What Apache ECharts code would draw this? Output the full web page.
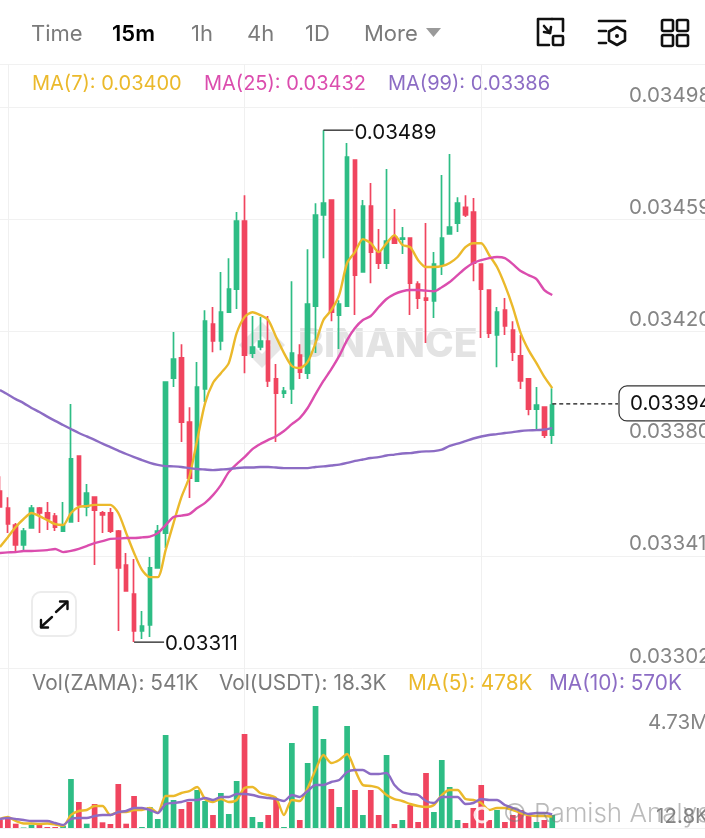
<!DOCTYPE html>
<html><head><meta charset="utf-8">
<style>html,body{margin:0;padding:0;background:#fff}#c{width:705px;height:838px}</style>
<script src="https://cdn.jsdelivr.net/npm/echarts@6/dist/echarts.min.js"></script>
</head><body><div id="c"></div>
<script>
// prices in units of 0.00001
const opens=[3363.5,3357.6,3351.7,3344.8,3350.7,3357.6,3355.9,3354.8,3349.6,3352.8,3375.7,3358,3361.4,3355.9,3355.9,3349.6,3337.8,3327.7,3314.9,3317,3336.8,3348.9,3402.8,3409.8,3387.5,3367,3399,3421.6,3415.7,3425.7,3433.7,3457.4,3411.5,3413.6,3415.7,3402.5,3397.6,3399,3410.8,3404.5,3427.8,3459.5,3464.7,3424.7,3427.8,3478.6,3439.7,3462.6,3446.6,3442.8,3451.8,3451.1,3451.5,3435.5,3430.6,3429.6,3442.1,3452.9,3456.7,3462.2,3460.5,3442.4,3433.4,3417.8,3426.4,3419.5,3410.5,3402.5,3392,3392.7,3383];
const closes=[3358,3352.1,3344.8,3349.6,3357.6,3355.9,3353.8,3351,3351.7,3374.7,3358.7,3362.8,3356.9,3355.2,3349.6,3336.8,3328.8,3314.9,3316.6,3336.8,3349.6,3401.4,3409.4,3387.5,3368,3399.7,3422.6,3415.7,3425.7,3433.7,3457.4,3410.8,3413.6,3415.7,3401.8,3397.6,3398.3,3411.5,3404.9,3428.5,3459.5,3463.6,3425.7,3428.5,3479.6,3438.6,3462.6,3446.6,3442.8,3450.4,3449.7,3451.5,3435.8,3430.6,3429.9,3442.4,3451.5,3455.3,3463.6,3459.5,3442.8,3433.7,3418.4,3425.7,3420.9,3411.8,3401.8,3392,3393.4,3383,3393.4];
const lows=[3358,3348.9,3342.3,3342.7,3350.7,3348.9,3350,3349.6,3349.6,3352.8,3352.8,3354.8,3337.8,3348.9,3348.9,3314.9,3328.8,3311,3312.1,3312.8,3336.8,3343.7,3399.7,3380.6,3361.1,3367,3394.5,3411.8,3412.5,3425.7,3426.8,3404.5,3409.8,3412.5,3399.7,3380.6,3395.9,3393.8,3402.5,3402.5,3411.5,3444.5,3422.6,3412.9,3427.8,3424.7,3439.7,3435.8,3440.7,3440.7,3449.7,3445.9,3424.7,3426.8,3415,3423.7,3438.6,3452.9,3453.6,3458.8,3436.5,3416.7,3416.7,3406.6,3417.8,3408.7,3399,3389.9,3384.7,3382,3379.9];
const highs=[3368.7,3361.4,3352.4,3350.7,3358.7,3358,3359.7,3355.9,3359.7,3393.8,3375.7,3366,3361.4,3356.6,3357.6,3350,3342,3339.9,3321.8,3340.6,3351.7,3401.4,3418.8,3414.6,3392.7,3408.4,3426.4,3427.5,3439.7,3444.5,3460.5,3466.4,3424.4,3424,3424.4,3407.7,3399.7,3436.5,3414.6,3447.6,3463.6,3489,3464.7,3429.9,3484.5,3478.6,3464.7,3470.6,3454.6,3475.5,3461.6,3455.3,3451.5,3436.5,3456.7,3446.6,3473.4,3480.7,3465.7,3466.4,3465.4,3442.4,3433.4,3427.5,3430.6,3422.6,3417.8,3402.5,3399.7,3392.7,3399.3];
const ma7=[3344.1,3347.5,3351,3353.8,3355.9,3354.8,3353.4,3352,3351.7,3355.9,3358,3358.3,3358.7,3358.7,3358.7,3355.9,3348.9,3342,3336.1,3333.6,3333.6,3343,3352.4,3361.4,3368.4,3381.3,3394.1,3401.1,3404.5,3408,3418.4,3424,3425.7,3424.7,3423,3417.1,3411.5,3407,3406.3,3408.4,3415,3423,3426.4,3431.7,3442.8,3446.6,3451.1,3449.7,3446.6,3449.7,3452.5,3449.1,3448.3,3443.8,3441.4,3441.4,3441.7,3442.8,3444.9,3448.3,3449.7,3449.7,3445.6,3441.4,3435.1,3427.5,3418.4,3412.5,3408,3403.2,3399.3];
const ma25=[3342,3342.2,3342.3,3342.7,3342.7,3342.8,3343,3343.4,3342.3,3342.7,3343.4,3344.4,3345.4,3346.1,3346.9,3347,3347.2,3347.2,3347.4,3347.7,3348.9,3351.7,3354.5,3355,3355.5,3357.6,3359.4,3362.1,3365.6,3370.1,3372.9,3375.3,3378.1,3379.9,3381.3,3382.6,3384.4,3386.8,3388.9,3392.4,3397.2,3401.8,3405.9,3410.5,3416,3420.2,3423,3424.4,3427.5,3430.3,3432,3433,3433.4,3433.4,3433.2,3433,3434.4,3436.2,3438.6,3441,3442.8,3443.8,3444.5,3444.9,3444.5,3442.4,3440,3438.6,3437.2,3433.4,3431.7];
const ma99=[3398.6,3397.1,3395.5,3394.1,3392.4,3391,3389.4,3387.9,3386.5,3385.1,3383.7,3382.5,3381.3,3380,3378.8,3377.6,3376.4,3375.3,3374.3,3373.3,3372.6,3372.2,3372.1,3371.9,3371.5,3371.2,3371,3370.8,3371,3371.2,3371.5,3371.7,3371.7,3371.9,3371.9,3371.7,3371.5,3371.5,3371.5,3371.5,3371.9,3372.1,3372.4,3372.7,3373.3,3374,3374.5,3375,3375.3,3375.9,3376.2,3376.6,3376.7,3377.1,3377.3,3377.4,3377.9,3379.2,3380,3380.9,3381.8,3382.5,3383,3383.3,3383.7,3384,3384.4,3384.6,3384.7,3384.9,3385.4];
// volume in thousands
const volumes=[333,458,179,21,137,137,42,42,83,2038,1082,179,998,237,166,1830,179,1331,42,874,374,3869,1165,790,1082,1581,1123,541,1456,582,1955,3910,458,250,541,1165,42,3536,333,2704,5075,3702,1622,874,4243,1581,541,1581,541,3037,166,333,957,250,2288,666,2829,1706,333,208,832,1789,333,749,250,541,749,499,250,333,541];
const volMa5=[374,458,291,187,187,166,187,146,83,541,707,749,915,915,541,666,666,749,749,832,624,1331,1331,1456,1539,1706,1206,1082,1206,1082,1165,1664,1706,1456,1373,1248,541,1165,1123,1664,2413,3037,2704,2829,3078,2413,1789,1747,1664,1373,1206,1123,998,915,874,957,1373,1581,1581,1206,1165,1040,749,832,832,749,624,541,499,499,478];
const volMa10=[374,416,374,333,291,291,291,208,125,374,416,416,499,541,541,666,707,832,832,749,624,998,1040,1082,1165,1165,1248,1165,1290,1290,1414,1414,1373,1290,1248,1206,1123,1373,1290,1539,1789,1789,1914,1997,2330,2413,2413,2246,2246,2288,1789,1498,1414,1373,1123,1040,1290,1290,1290,998,1040,1206,1165,1165,957,832,707,582,624,624,570];
const priceTickValues=[3302,3341,3380,3419,3458,3497];
const priceTickLabels=['0.03302','0.03341','0.03380','0.03420','0.03459','0.03498'];
const volTickValues=[13,3950];
const volTickLabels=['{a|12.8K}','4.73M'];
const tabs=['Time','15m','1h','4h','1D','More'];
const slots=90;
const lastPrice=3393.8, lastPriceLabel='0.03394', highLabel='0.03489', lowLabel='0.03311', highIndex=41, lowIndex=17;

const GREEN='#2EBD85',RED='#F0455F',YEL='#EBB92B',PINK='#DB4DAE',PUR='#8C6CC4',GRID='#f1f1f1',GRAY='#858585';
const FF='Inter, "Noto Sans", sans-serif';
const cats=Array.from({length:slots},(_,i)=>String(i));
const candle=opens.map((o,i)=>[o,closes[i],lows[i],highs[i]]);
const volData=volumes.map((v,i)=>({value:v,itemStyle:{color:closes[i]>=opens[i]?GREEN:RED}}));
const line=(name,data,color,x,y,w)=>({name,type:'line',xAxisIndex:x,yAxisIndex:y,data,showSymbol:false,symbol:'none',smooth:0.25,z:5,
  lineStyle:{color,width:w},itemStyle:{color},silent:true,animation:false,clip:true});
const txt=(x,y,text,fill,size,weight,extra)=>({type:'text',x,y,silent:true,style:Object.assign({text,fill,fontSize:size,fontWeight:weight||400,fontFamily:FF,textVerticalAlign:'middle',verticalAlign:'middle'},extra||{})});
const st=(o)=>Object.assign({stroke:'#111',lineWidth:2.6,fill:null,lineCap:'round',lineJoin:'round'},o||{});
const ln=(a,b,c,d,o)=>({type:'line',silent:true,shape:{x1:a,y1:b,x2:c,y2:d},style:st(o)});
const rr=(x,y,w,h,r,o)=>({type:'rect',silent:true,shape:{x,y,width:w,height:h,r},style:st(o)});
const pl=(points,o)=>({type:'polyline',silent:true,shape:{points},style:st(o)});

const tabX=[31,112,191,247,305,364];
const graphics=[
  ...tabs.map((t,i)=>txt(tabX[i],34,t,i===1?'#000':'#7b7b7b',22,i===1?600:400)),
  {type:'polygon',silent:true,shape:{points:[[426,28],[441,28],[433.5,37]]},style:{fill:'#9a9a9a'}},
  // header icons
  pl([[552,19],[538,19],[538,45],[549,45]]),pl([[552,19],[563,19],[563,31]]),
  rr(553,36,10,9,1),ln(544,26,550,33),pl([[544,32],[550,33],[551,27]]),
  ln(599,21,625,21),ln(599,31,606,31),ln(599,43,606,43),
  pl([[617,27],[625,31.5],[625,40.5],[617,45],[609,40.5],[609,31.5],[617,27]]),
  {type:'circle',silent:true,shape:{cx:617,cy:36,r:2},style:{fill:'#111'}},
  rr(662,20,11,11,1.5),rr(677,20,11,11,1.5),rr(662,35,11,11,1.5),rr(677,35,11,11,1.5),
  // legends
  txt(32,84,'MA(7): 0.03400',YEL,20),txt(204,84,'MA(25): 0.03432',PINK,20),txt(388,84,'MA(99): 0.03386',PUR,20),
  txt(32,684,'Vol(ZAMA): 541K','#7b7b7b',20.8),txt(219,684,'Vol(USDT): 18.3K','#7b7b7b',20.8),txt(408,684,'MA(5): 478K',YEL,20.8),txt(549,684,'MA(10): 570K',PUR,20.8),
  // expand button
  rr(32,592,44,44,9,{stroke:'#ececec',lineWidth:2,fill:'#fff'}),
  ln(56,612,67,602,{lineWidth:2.4}),pl([[60,601.5],[67.5,601.5],[67.5,609]],{lineWidth:2.4}),
  ln(52,617,41,627,{lineWidth:2.4}),pl([[41,620],[41,627.5],[48,627.5]],{lineWidth:2.4}),
  // binance watermark
  {type:'group',z:-1,children:[
    {type:'polygon',silent:true,z:-1,shape:{points:[[262,322],[285,345],[262,368],[239,345]]},style:{fill:'#e6e6e6'}},
    {type:'polygon',silent:true,z:-1,shape:{points:[[262,336],[271,345],[262,354],[253,345]]},style:{fill:'#fff'}},
  ]},
  Object.assign(txt(298,345,'BINANCE','#e3e3e3',39,800),{z:-1}),
  // photo watermark
  Object.assign(txt(503,814,'© Ramish Analysis','rgba(120,120,120,.5)',26,300),{z:20}),
  {type:'circle',silent:true,z:20,shape:{cx:482,cy:815,r:7},style:{fill:'none',stroke:'rgba(255,255,255,.85)',lineWidth:3}},
];

const annotations={type:'custom',xAxisIndex:0,yAxisIndex:0,data:[[0]],z:10,silent:true,clip:false,encode:{x:0},animation:false,
  renderItem(p,api){
    const hi=api.coord([highIndex,highs[highIndex]]),lo=api.coord([lowIndex,lows[lowIndex]]),la=api.coord([70,lastPrice]);
    const tx=(x,y,text)=>({type:'text',x,y,style:{text,fill:'#111',fontSize:20.5,fontFamily:FF,verticalAlign:'middle'}});
    const sl=(a,b,c,d,dash)=>({type:'line',shape:{x1:a,y1:b,x2:c,y2:d},style:{stroke:'#111',lineWidth:1.2,lineDash:dash||null}});
    return {type:'group',children:[
      sl(hi[0],hi[1],hi[0]+30,hi[1]),tx(hi[0]+31,hi[1]+3,highLabel),
      sl(lo[0],lo[1],lo[0]+30,lo[1]),tx(lo[0]+31,lo[1]+2,lowLabel),
      sl(la[0],la[1],618,la[1],[4,3]),
      {type:'rect',shape:{x:619,y:la[1]-18,width:100,height:35,r:8},style:{fill:'#fff',stroke:'#333',lineWidth:1.2}},
      tx(630,la[1],lastPriceLabel),
    ]};
  }};

const chart=echarts.init(document.getElementById('c'),null,{renderer:'canvas'});
chart.setOption({
  animation:false,backgroundColor:'#fff',
  graphic:graphics,
  grid:[{left:-4,width:710.1,top:64,height:604,containLabel:false,outerBoundsMode:'none'},{left:-4,width:710.1,top:668,height:160,containLabel:false,outerBoundsMode:'none'}],
  xAxis:[0,1].map(g=>({type:'category',gridIndex:g,data:cats,boundaryGap:true,
    axisLabel:{show:false},axisTick:{show:false},axisLine:{show:g===1,lineStyle:{color:GRID,width:1}},
    splitLine:{show:true,alignWithLabel:true,interval:(i)=>i%30===1,lineStyle:{color:'#f0f0f0',width:1}}})),
  yAxis:[
    {type:'value',gridIndex:0,position:'right',min:3302,max:3512,interval:39,scale:true,
     axisLine:{show:false},axisTick:{show:false},splitLine:{show:true,lineStyle:{color:GRID,width:1}},
     axisLabel:{inside:true,showMaxLabel:false,align:'left',verticalAlign:'bottom',margin:77,padding:[0,0,1,0],color:GRAY,fontSize:20.5,fontFamily:FF,
       formatter:v=>{const k=priceTickValues.indexOf(Math.round(v));return k<0?'':priceTickLabels[k];}}},
    {type:'value',gridIndex:1,position:'right',min:0,max:6656,
     axisLine:{show:false},axisTick:{show:false},splitLine:{show:false},
     axisLabel:{inside:true,align:'left',verticalAlign:'bottom',margin:58,color:GRAY,fontSize:20.5,fontFamily:FF,
       rich:{a:{padding:[0,0,0,8],color:GRAY,fontSize:20.5,fontFamily:FF}},
       customValues:volTickValues,formatter:v=>volTickLabels[volTickValues.indexOf(v)]||''}}
  ],
  series:[
    {type:'candlestick',xAxisIndex:0,yAxisIndex:0,data:candle,barWidth:4,z:3,silent:true,clip:true,
     itemStyle:{color:GREEN,color0:RED,borderColor:GREEN,borderColor0:RED,borderWidth:1.7}},
    line('MA(7)',ma7,YEL,0,0,2.4),line('MA(25)',ma25,PINK,0,0,2.4),line('MA(99)',ma99,PUR,0,0,2.4),
    {type:'bar',xAxisIndex:1,yAxisIndex:1,data:volData,barWidth:5.7,z:3,silent:true},
    line('MA(5)',volMa5,YEL,1,1,2.4),line('MA(10)',volMa10,PUR,1,1,2.4),
    annotations
  ]
});
</script></body></html>
